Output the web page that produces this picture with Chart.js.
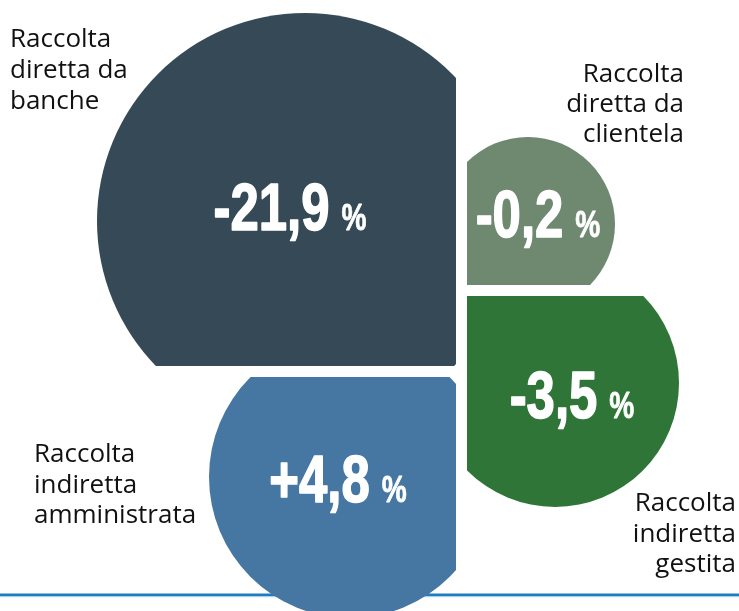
<!DOCTYPE html>
<html>
<head>
<meta charset="utf-8">
<script src="https://cdn.jsdelivr.net/npm/chart.js@4"></script>
<style>
  html, body { margin: 0; padding: 0; background: #ffffff; }
</style>
</head>
<body>
<canvas id="c" width="739" height="611"></canvas>
<script>
// ---- DATA ----
const categories = [
  'Raccolta diretta da banche',
  'Raccolta diretta da clientela',
  'Raccolta indiretta gestita',
  'Raccolta indiretta amministrata'
];
const categoryLines = [
  ['Raccolta', 'diretta da', 'banche'],
  ['Raccolta', 'diretta da', 'clientela'],
  ['Raccolta', 'indiretta', 'gestita'],
  ['Raccolta', 'indiretta', 'amministrata']
];
const changes = [-21.9, -0.2, -3.5, 4.8];   // variazione %

// ---- LAYOUT (chart units) ----
const bubbleX = [305, 528, 555, 350];
const bubbleY = [221, 224, 383, 477];
const bubbleR = [208, 87, 124, 141];
// clip boxes [xMin, xMax, yMin, yMax]
const clipBoxes = [
  [0, 456, 0, 366],
  [467, 739, 0, 285],
  [467, 739, 296, 611],
  [0, 456, 377, 611]
];
const colors = ['#354a56', '#6f8870', '#2e7537', '#4577a2'];
const valueAnchors = [[290, 230], [538, 237], [572, 418], [338, 502]];
const labelAnchors = [
  { x: 10,  y: 47,  align: 'left',  lh: 31 },
  { x: 684, y: 82,  align: 'right', lh: 30 },
  { x: 736, y: 511, align: 'right', lh: 30.5 },
  { x: 34,  y: 462, align: 'left',  lh: 30.5 }
];
const ruleY = 595;

function fmt(v) {
  return (v > 0 ? '+' : '') + v.toFixed(1).replace('.', ',');
}

const shapePlugin = {
  id: 'shapePlugin',
  beforeDatasetsDraw(chart) {
    const { ctx, scales: { x, y } } = chart;
    const py = y.getPixelForValue(ruleY);
    const x0 = x.getPixelForValue(0), x1 = x.getPixelForValue(739);
    ctx.save();
    ctx.fillStyle = '#1f7cbf';
    ctx.fillRect(x0, py - 1.5, x1 - x0, 2.5);
    ctx.fillStyle = '#a9d0ec';
    ctx.fillRect(x0, py + 1, x1 - x0, 1.2);
    ctx.restore();
  },
  beforeDatasetDraw(chart, args) {
    const { ctx, scales: { x, y } } = chart;
    const b = clipBoxes[args.index];
    const x0 = x.getPixelForValue(b[0]), x1 = x.getPixelForValue(b[1]);
    const y0 = y.getPixelForValue(b[2]), y1 = y.getPixelForValue(b[3]);
    ctx.save();
    ctx.beginPath();
    ctx.rect(Math.min(x0, x1), Math.min(y0, y1), Math.abs(x1 - x0), Math.abs(y1 - y0));
    ctx.clip();
  },
  afterDatasetDraw(chart) {
    chart.ctx.restore();
  },
  afterDatasetsDraw(chart) {
    const { ctx, scales: { x, y } } = chart;
    const SX = 0.76;
    const bigFont = 'bold 67px "Liberation Sans", Arial, sans-serif';
    const smallFont = 'bold 37px "Liberation Sans", Arial, sans-serif';
    changes.forEach((v, i) => {
      const text = fmt(v);
      const cx = x.getPixelForValue(valueAnchors[i][0]);
      const by = y.getPixelForValue(valueAnchors[i][1]);
      ctx.save();
      ctx.translate(cx, by);
      ctx.scale(SX, 1);
      ctx.textAlign = 'left';
      ctx.textBaseline = 'alphabetic';
      ctx.fillStyle = '#ffffff';
      ctx.strokeStyle = '#ffffff';
      ctx.lineJoin = 'round';
      ctx.font = bigFont;
      const w1 = ctx.measureText(text).width;
      ctx.font = smallFont;
      const w2 = ctx.measureText('%').width;
      const gap = 12 / SX;
      const total = w1 + gap + w2;
      const sx = -total / 2;
      ctx.font = bigFont;
      ctx.lineWidth = 1.6;
      ctx.fillText(text, sx, 0);
      ctx.strokeText(text, sx, 0);
      ctx.font = smallFont;
      ctx.lineWidth = 0.8;
      ctx.fillText('%', sx + w1 + gap, 0);
      ctx.strokeText('%', sx + w1 + gap, 0);
      ctx.restore();
    });
    ctx.save();
    ctx.fillStyle = '#111111';
    ctx.font = '26px "Open Sans", "Noto Sans", sans-serif';
    ctx.textBaseline = 'alphabetic';
    categoryLines.forEach((lines, i) => {
      const a = labelAnchors[i];
      ctx.textAlign = a.align;
      lines.forEach((ln, k) => {
        ctx.fillText(ln, x.getPixelForValue(a.x), y.getPixelForValue(a.y + k * a.lh));
      });
    });
    ctx.restore();
  }
};

const datasets = categories.map((name, i) => ({
  label: name,
  data: [{ x: bubbleX[i], y: bubbleY[i], r: 1 }],
  backgroundColor: colors[i],
  borderWidth: 0,
  hoverRadius: 0,
  clip: false
}));

const chart = new Chart(document.getElementById('c'), {
  type: 'bubble',
  data: { datasets },
  options: {
    responsive: false,
    animation: false,
    events: [],
    layout: { padding: 0, autoPadding: false },
    plugins: {
      legend: { display: false },
      tooltip: { enabled: false },
      title: { display: false }
    },
    scales: {
      x: { type: 'linear', min: 0, max: 739, display: false },
      y: { type: 'linear', min: 0, max: 611, reverse: true, display: false }
    }
  },
  plugins: [shapePlugin]
});

// convert radii from chart units to pixels through the x scale
const xs = chart.scales.x;
chart.data.datasets.forEach((d, i) => {
  d.data[0].r = xs.getPixelForValue(bubbleR[i]) - xs.getPixelForValue(0);
});
chart.update('none');
</script>
</body>
</html>
